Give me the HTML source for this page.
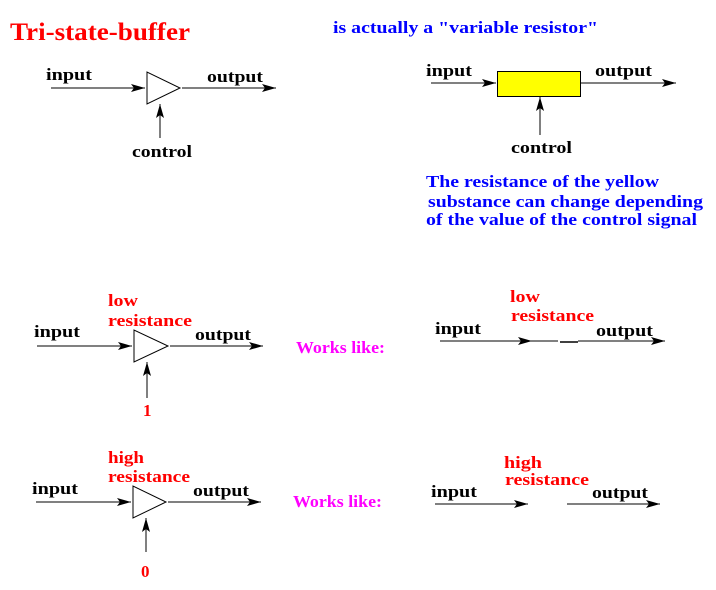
<!DOCTYPE html>
<html><head><style>
html,body{margin:0;padding:0;background:#fff;}
svg{display:block;}
text{font-family:"Liberation Serif",serif;font-weight:bold;font-size:17px;}
.k{fill:#000}.r{fill:#f00}.b{fill:#00f}.m{fill:#f0f}
</style></head><body>
<svg width="716" height="590" viewBox="0 0 716 590" xmlns="http://www.w3.org/2000/svg">
<defs><marker id="a" markerWidth="14" markerHeight="8" refX="14" refY="4" orient="auto" markerUnits="userSpaceOnUse"><path d="M0,0 L14,4 L0,8 L3,4 Z" fill="#000"/></marker></defs>
<g stroke="#000" stroke-width="1" fill="none">
<line x1="51" y1="88" x2="145" y2="88" marker-end="url(#a)"/>
<polygon points="147,72 147,104 180,88" fill="#fff"/>
<line x1="182" y1="88" x2="276" y2="88" marker-end="url(#a)"/>
<line x1="160" y1="138" x2="160" y2="104" marker-end="url(#a)"/>
<line x1="431" y1="83" x2="496" y2="83" marker-end="url(#a)"/>
<rect x="497.5" y="71.5" width="83" height="25" fill="#ff0"/>
<line x1="581" y1="83" x2="676" y2="83" marker-end="url(#a)"/>
<line x1="540" y1="135" x2="540" y2="97" marker-end="url(#a)"/>
<line x1="37" y1="346" x2="132" y2="346" marker-end="url(#a)"/>
<polygon points="134,330 134,362 168,346" fill="#fff"/>
<line x1="170" y1="346" x2="263" y2="346" marker-end="url(#a)"/>
<line x1="147" y1="398" x2="147" y2="362" marker-end="url(#a)"/>
<line x1="440" y1="341" x2="532" y2="341" marker-end="url(#a)"/>
<line x1="532" y1="341" x2="558" y2="341"/>
<line x1="560" y1="342" x2="578" y2="342" stroke-width="1.5"/>
<line x1="578" y1="341" x2="665" y2="341" marker-end="url(#a)"/>
<line x1="36" y1="502" x2="131" y2="502" marker-end="url(#a)"/>
<polygon points="133,486 133,518 166,502" fill="#fff"/>
<line x1="168" y1="502" x2="261" y2="502" marker-end="url(#a)"/>
<line x1="146" y1="552" x2="146" y2="518" marker-end="url(#a)"/>
<line x1="435" y1="504" x2="528" y2="504" marker-end="url(#a)"/>
<line x1="567" y1="504" x2="660" y2="504" marker-end="url(#a)"/>
</g>
<g lengthAdjust="spacingAndGlyphs">
<text x="10" y="40" class="r" style="font-size:25px" textLength="180" lengthAdjust="spacingAndGlyphs">Tri-state-buffer</text>
<text x="333" y="33" class="b" textLength="265" lengthAdjust="spacingAndGlyphs">is actually a "variable resistor"</text>
<text x="46" y="80" class="k" textLength="46" lengthAdjust="spacingAndGlyphs">input</text>
<text x="207" y="82" class="k" textLength="56" lengthAdjust="spacingAndGlyphs">output</text>
<text x="132" y="157" class="k" textLength="60" lengthAdjust="spacingAndGlyphs">control</text>
<text x="426" y="76" class="k" textLength="46" lengthAdjust="spacingAndGlyphs">input</text>
<text x="595" y="76" class="k" textLength="57" lengthAdjust="spacingAndGlyphs">output</text>
<text x="511" y="153" class="k" textLength="61" lengthAdjust="spacingAndGlyphs">control</text>
<text x="426" y="187" class="b" textLength="233" lengthAdjust="spacingAndGlyphs">The resistance of the yellow</text>
<text x="428" y="207" class="b" textLength="275" lengthAdjust="spacingAndGlyphs">substance can change depending</text>
<text x="426" y="225" class="b" textLength="271" lengthAdjust="spacingAndGlyphs">of the value of the control signal</text>
<text x="108" y="306" class="r" textLength="30" lengthAdjust="spacingAndGlyphs">low</text>
<text x="108" y="326" class="r" textLength="84" lengthAdjust="spacingAndGlyphs">resistance</text>
<text x="34" y="337" class="k" textLength="46" lengthAdjust="spacingAndGlyphs">input</text>
<text x="195" y="340" class="k" textLength="56" lengthAdjust="spacingAndGlyphs">output</text>
<text x="143" y="416" class="r">1</text>
<text x="296" y="353" class="m" textLength="89" lengthAdjust="spacingAndGlyphs">Works like:</text>
<text x="435" y="334" class="k" textLength="46" lengthAdjust="spacingAndGlyphs">input</text>
<text x="510" y="302" class="r" textLength="30" lengthAdjust="spacingAndGlyphs">low</text>
<text x="511" y="321" class="r" textLength="83" lengthAdjust="spacingAndGlyphs">resistance</text>
<text x="596" y="336" class="k" textLength="57" lengthAdjust="spacingAndGlyphs">output</text>
<text x="108" y="463" class="r" textLength="36" lengthAdjust="spacingAndGlyphs">high</text>
<text x="108" y="482" class="r" textLength="82" lengthAdjust="spacingAndGlyphs">resistance</text>
<text x="32" y="494" class="k" textLength="46" lengthAdjust="spacingAndGlyphs">input</text>
<text x="193" y="496" class="k" textLength="56" lengthAdjust="spacingAndGlyphs">output</text>
<text x="141" y="577" class="r">0</text>
<text x="293" y="507" class="m" textLength="89" lengthAdjust="spacingAndGlyphs">Works like:</text>
<text x="431" y="497" class="k" textLength="46" lengthAdjust="spacingAndGlyphs">input</text>
<text x="504" y="468" class="r" textLength="38" lengthAdjust="spacingAndGlyphs">high</text>
<text x="505" y="485" class="r" textLength="84" lengthAdjust="spacingAndGlyphs">resistance</text>
<text x="592" y="498" class="k" textLength="56" lengthAdjust="spacingAndGlyphs">output</text>
</g>
</svg>
</body></html>
